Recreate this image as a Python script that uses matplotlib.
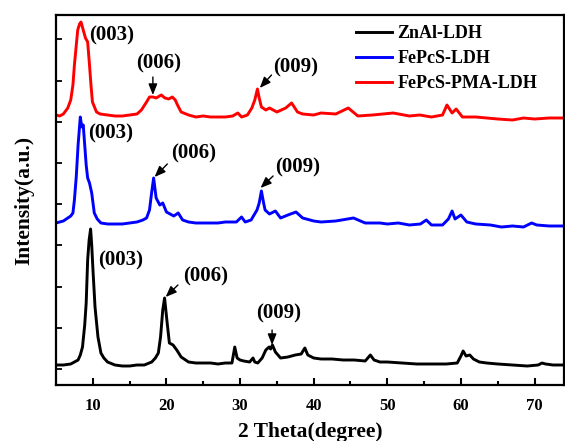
import matplotlib
matplotlib.use("Agg")
import matplotlib.pyplot as plt
from matplotlib.ticker import MultipleLocator, FixedLocator
import numpy as np

plt.rcParams['font.family'] = ['Liberation Serif', 'DejaVu Serif']
plt.rcParams['font.weight'] = 'bold'

# ---------------- data ----------------
znal_x = [5.0, 6.0, 7.0, 7.5, 8.0, 8.3, 8.6, 8.9, 9.1, 9.3, 9.5, 9.7, 9.85, 10.0, 10.3,
          10.7, 11.1, 11.5, 12.0, 13, 14, 15, 16, 17, 18.0, 18.5, 18.9, 19.2, 19.5, 19.75,
          20.1, 20.4, 20.9, 21.4, 22.0, 23, 24, 25, 26, 27, 28, 28.9, 29.28, 29.6, 30.0,
          30.5, 31.3, 31.76, 32.0, 32.4, 33.0, 33.5, 33.95, 34.15, 34.4, 34.8, 35.5, 36.5,
          37.5, 38.3, 38.8, 39.2, 40, 41, 42.5, 44, 45.5, 47.0, 47.7, 48.2, 49, 50, 52, 54,
          56, 58, 59.5, 60.0, 60.3, 60.7, 61.2, 61.7, 62.5, 63.5, 65, 67, 69, 70.5, 71.0,
          71.5, 72.5, 74]
znal_y = [20, 20, 21, 23, 25, 30, 38, 60, 82, 125, 145, 156, 140, 118, 78,
          48, 32, 27, 23, 20, 19, 19, 20, 20, 23, 27, 32, 48, 75, 87,
          62, 42, 40, 35, 28, 23, 22, 22, 22, 21, 22, 22, 38, 27, 25,
          24, 23, 27, 23, 22, 27, 35, 38, 36, 40, 33, 27, 28,
          30, 31, 37, 30, 27, 26, 26, 25, 25, 24, 30, 25, 23, 23, 22, 21,
          21, 21, 22, 29, 34, 29, 30, 26, 23, 22, 21, 20, 19, 20, 22,
          21, 20, 20]

fepcs_x = [5.0, 6.0, 6.6, 7.0, 7.3, 7.5, 7.75, 8.0, 8.3, 8.5, 8.7, 8.9, 9.1, 9.3, 9.55,
           9.85, 10.2, 10.6, 11.1, 12, 13, 14, 15, 16, 16.8, 17.3, 17.7, 18.0, 18.26, 18.6,
           19.1, 19.5, 20.0, 20.5, 21.0, 21.6, 22.2, 23, 24, 25, 26, 27, 28, 29.5, 30.2,
           30.7, 31.5, 32.3, 32.6, 32.9, 33.2, 33.4, 34.0, 34.8, 35.5, 36.5, 37.6, 38.5, 40,
           41, 43, 45.4, 47, 49, 50, 51.5, 53, 54.5, 55.3, 56, 57.5, 58.3, 58.8, 59.2, 60.0,
           60.8, 62, 64, 65.5, 67, 68.5, 69.6, 70.3, 72, 74]
fepcs_y = [162, 164, 167, 169, 172, 185, 208, 240, 268, 258, 260, 240, 220, 207, 202,
           192, 172, 166, 162, 161, 161, 161, 162, 163, 165, 167, 175, 193, 207, 187,
           180, 182, 173, 171, 169, 172, 165, 163, 162, 162, 162, 162, 163, 163, 168,
           163, 165, 175, 182, 194, 182, 175, 171, 174, 167, 170, 173, 167, 164,
           163, 164, 167, 162, 162, 161, 162, 160, 161, 165, 160, 160, 166, 174, 166, 170,
           163, 161, 160, 158, 159, 158, 162, 160, 159, 159]

pma_x = [5.0, 5.5, 6.0, 6.6, 7.0, 7.3, 7.5, 7.95, 8.2, 8.4, 8.7, 9.0, 9.3, 9.55, 9.75,
         9.95, 10.5, 11.0, 12, 13, 14, 15, 16.0, 16.6, 17.3, 17.7, 18.2, 18.6, 19.3, 19.8,
         20.3, 20.8, 21.2, 21.5, 22.0, 23, 24, 25, 26, 27, 28, 29.0, 29.7, 30.2, 31.0,
         31.6, 32.0, 32.36, 32.6, 32.9, 33.5, 34.0, 35, 36.2, 37.0, 37.8, 38.5, 40, 41,
         43, 44.7, 46, 48, 50.8, 53, 54.4, 56, 57.5, 58.1, 58.8, 59.35, 60.2, 62, 65, 67,
         68.5, 70, 72, 74]
pma_y = [270, 269, 271, 277, 285, 300, 320, 355, 361, 363, 355, 347, 343, 320, 300,
         283, 273, 271, 270, 269, 269, 270, 271, 275, 283, 288, 288, 287, 290, 287,
         286, 288, 285, 280, 273, 270, 268, 269, 268, 268, 268, 269, 272, 268, 270,
         277, 285, 296, 287, 278, 275, 277, 273, 277, 282, 273, 271, 270, 272,
         271, 277, 269, 270, 272, 269, 270, 268, 270, 280, 272, 276, 268, 268, 266, 265,
         267, 266, 267, 267]

series_labels = ['ZnAl-LDH', 'FePcS-LDH', 'FePcS-PMA-LDH']
series_colors = ['black', 'blue', 'red']

peak_labels = ['(003)', '(006)', '(009)']

# ---------------- figure ----------------
fig = plt.figure(figsize=(5.65, 4.41), dpi=100)
ax = fig.add_axes([56 / 565, 1 - 385 / 441, 508 / 565, 370 / 441])

for xs, ys, lab, col in zip([znal_x, fepcs_x, pma_x], [znal_y, fepcs_y, pma_y],
                            series_labels, series_colors):
    ax.plot(xs, ys, color=col, lw=2.1, label=lab)

ax.set_xlim(5, 74)
ax.set_ylim(0, 370)

ann_fs = 15
arrow_kw = dict(arrowstyle='-|>,head_length=0.55,head_width=0.22', color='black',
                lw=1.0, shrinkA=0, shrinkB=0, mutation_scale=12)

# red
ax.text(9.55, 350, peak_labels[0], fontsize=ann_fs, fontweight='bold', ha='left', va='center')
ax.text(18.97, 322, peak_labels[1], fontsize=ann_fs, fontweight='bold', ha='center', va='center')
ax.annotate('', xy=(18.16, 290), xytext=(18.16, 308), arrowprops=arrow_kw)
ax.text(37.51, 318, peak_labels[2], fontsize=ann_fs, fontweight='bold', ha='center', va='center')
ax.annotate('', xy=(32.68, 297), xytext=(34.27, 310), arrowprops=arrow_kw)
# blue
ax.text(9.32, 252, peak_labels[0], fontsize=ann_fs, fontweight='bold', ha='left', va='center')
ax.text(23.69, 232, peak_labels[1], fontsize=ann_fs, fontweight='bold', ha='center', va='center')
ax.annotate('', xy=(18.39, 208), xytext=(20.12, 221), arrowprops=arrow_kw)
ax.text(37.85, 218, peak_labels[2], fontsize=ann_fs, fontweight='bold', ha='center', va='center')
ax.annotate('', xy=(32.78, 197), xytext=(34.49, 209), arrowprops=arrow_kw)
# black
ax.text(10.68, 125, peak_labels[0], fontsize=ann_fs, fontweight='bold', ha='left', va='center')
ax.text(25.31, 109, peak_labels[1], fontsize=ann_fs, fontweight='bold', ha='center', va='center')
ax.annotate('', xy=(19.89, 88), xytext=(21.56, 100), arrowprops=arrow_kw)
ax.text(35.29, 72, peak_labels[2], fontsize=ann_fs, fontweight='bold', ha='center', va='center')
ax.annotate('', xy=(34.35, 40), xytext=(34.35, 55), arrowprops=arrow_kw)

# ticks
ax.xaxis.set_major_locator(MultipleLocator(10))
ax.xaxis.set_minor_locator(MultipleLocator(5))
ax.yaxis.set_major_locator(FixedLocator(list(16 + 41.2 * np.arange(9))))
ax.tick_params(axis='x', which='major', direction='in', length=5, width=1.5,
               labelsize=12, pad=9, top=False)
ax.tick_params(axis='x', which='minor', direction='in', length=3, width=1.5, top=False)
ax.tick_params(axis='y', which='major', direction='in', length=4, width=1.3,
               labelleft=False, right=False)
for lab in ax.get_xticklabels():
    lab.set_fontweight('bold')

for sp in ax.spines.values():
    sp.set_linewidth(1.6)

ax.set_xlabel('2 Theta(degree)', fontsize=15.5, fontweight='bold')
ax.xaxis.set_label_coords(0.5, -(422 - 385) / 370)
ax.set_ylabel('Intensity(a.u.)', fontsize=15.5, fontweight='bold')
ax.yaxis.set_label_coords(-(56 - 34) / 508, 0.5)

leg = ax.legend(loc='upper left', bbox_to_anchor=(356 / 565, 1 - 25 / 441),
                bbox_transform=fig.transFigure, frameon=False,
                prop={'weight': 'bold', 'size': 13}, handlelength=2.0,
                handletextpad=0.3, labelspacing=0.45, borderpad=0, borderaxespad=0)

fig.savefig('out.png', dpi=100)
